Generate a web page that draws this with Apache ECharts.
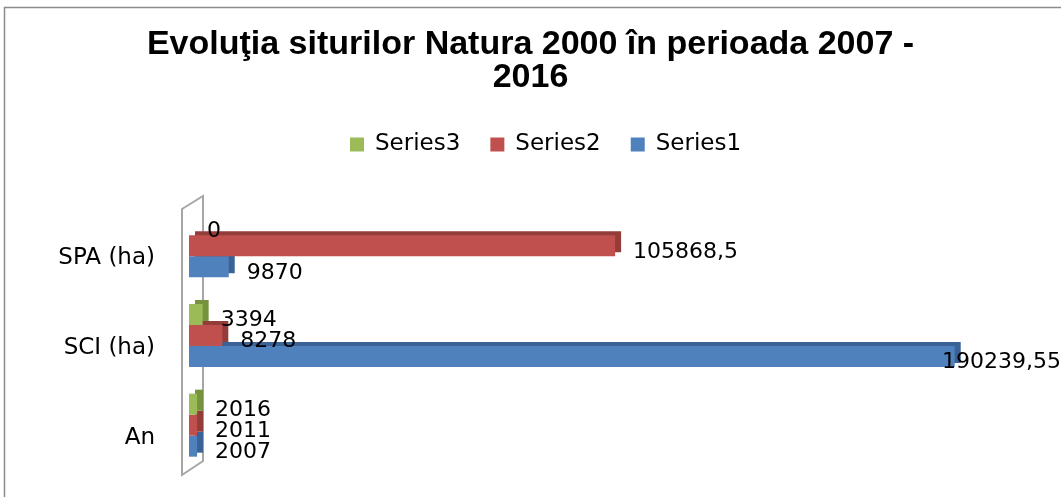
<!DOCTYPE html>
<html>
<head>
<meta charset="utf-8">
<title>Evoluţia siturilor Natura 2000</title>
<script src="https://cdn.jsdelivr.net/npm/echarts@6/dist/echarts.min.js"></script>
<style>
  html, body { margin: 0; padding: 0; background: #fff; }
  #chart { width: 1061px; height: 497px; }
</style>
</head>
<body>
<div id="chart"></div>
<script>
// categories from bottom to top
const categories = ["An", "SCI (ha)", "SPA (ha)"];
const series1 = [2007, 190239.55, 9870];
const series2 = [2011, 8278, 105868.5];
const series3 = [2016, 3394, 0];

const colors = ["#4f81bd", "#c0504d", "#9bbb59"];
const sideColors = ["#3a6296", "#943c3a", "#76923c"];

const chart = echarts.init(document.getElementById("chart"));

const fmt = (p) => String(p.value).replace(".", ",");

function barSeries(name, data, idx) {
  return {
    name: name,
    type: "bar",
    data: data,
    z: 2 + idx,
    barWidth: 21,
    barGap: "0%",
    itemStyle: {
      color: colors[idx],
      shadowColor: sideColors[idx],
      shadowOffsetX: 6,
      shadowOffsetY: -4,
      shadowBlur: 0
    },
    label: {
      show: true,
      position: "right",
      distance: 18,
      formatter: fmt,
      color: "#000",
      fontFamily: "DejaVu Sans",
      fontSize: 22
    },
    // labels sit a little low, and the long one is pulled back inside the frame
    labelLayout: (p) => {
      const r = p.labelRect;
      const w = chart.getWidth();
      const out = { dy: 6 };
      if (r.x + r.width > w) out.dx = w - (r.x + r.width);
      return out;
    }
  };
}

chart.setOption({
  animation: false,
  title: {
    text: "Evoluţia siturilor Natura 2000 în perioada 2007 -\n2016",
    left: "center",
    top: 23,
    textStyle: {
      fontFamily: "Liberation Sans",
      fontWeight: "bold",
      fontSize: 34,
      lineHeight: 33,
      color: "#000"
    }
  },
  legend: {
    data: ["Series3", "Series2", "Series1"],
    left: 345,
    top: 128,
    itemWidth: 14,
    itemHeight: 14,
    itemGap: 30,
    icon: "rect",
    textStyle: {
      fontFamily: "DejaVu Sans",
      fontSize: 23,
      color: "#000",
      padding: [0, 0, 0, 6]
    }
  },
  graphic: [
    {
      type: "rect",
      shape: { x: 4.5, y: 7.5, width: 1200, height: 600 },
      style: { fill: "none", stroke: "#8c8c8c", lineWidth: 1.5 },
      z: -10
    },
    {
      type: "polygon",
      shape: { points: [[182, 209], [203, 196], [203, 461], [182, 475]] },
      style: { fill: "#fff", stroke: "#a6a6a6", lineWidth: 2 },
      z: -5
    }
  ],
  grid: {
    left: 189,
    right: 67,
    top: 201,
    bottom: 27
  },
  xAxis: {
    type: "value",
    min: 0,
    max: 200000,
    show: false
  },
  yAxis: {
    type: "category",
    data: categories,
    axisLine: { show: false },
    axisTick: { show: false },
    axisLabel: {
      margin: 34,
      color: "#000",
      fontFamily: "DejaVu Sans",
      fontSize: 23,
      verticalAlign: "top",
      padding: [1, 0, 0, 0]
    }
  },
  series: [
    barSeries("Series3", series3, 2),
    barSeries("Series2", series2, 1),
    barSeries("Series1", series1, 0)
  ]
});
</script>
</body>
</html>
